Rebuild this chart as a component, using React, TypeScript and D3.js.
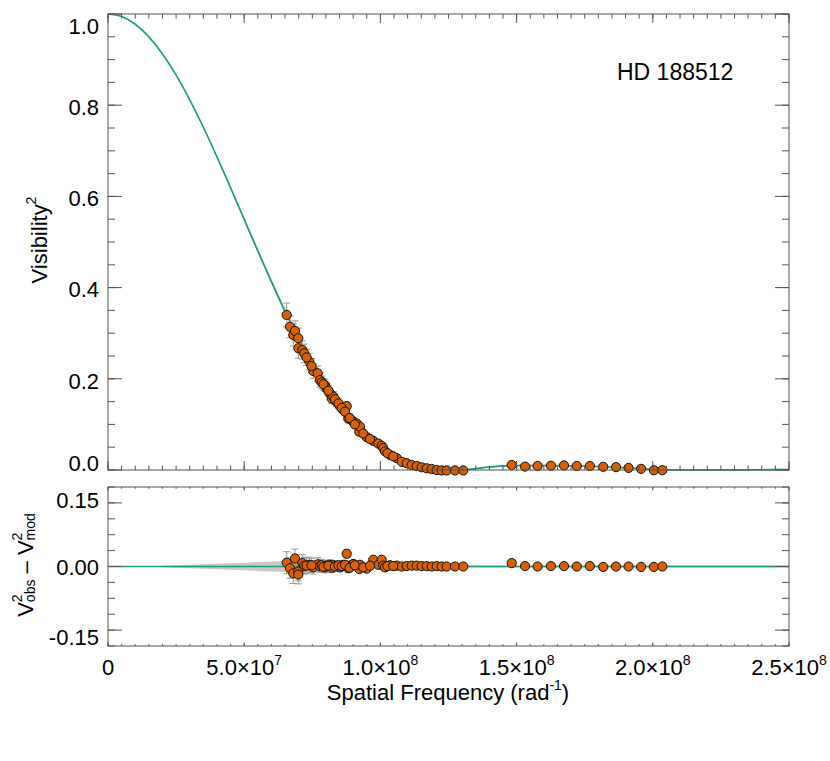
import React from "react";
import * as d3 from "d3";

// ---------- model curve (spatial frequency in units of 1e7 rad^-1) ----------
const modelFreq = [0, 0.5, 1, 1.5, 2, 2.5, 3, 3.5, 4, 4.5, 5, 5.5, 6, 6.5, 7, 7.5, 8, 8.5, 9, 9.5, 10, 10.5, 11, 11.5, 12, 12.5, 13, 13.5, 14, 14.5, 15, 16, 17, 18, 19, 20, 20.5, 21, 22, 23, 24, 25];
const modelV2 = [1, 0.9943, 0.9775, 0.9499, 0.9124, 0.8659, 0.8119, 0.7516, 0.6867, 0.6188, 0.5495, 0.4804, 0.413, 0.348, 0.2881, 0.2328, 0.1836, 0.1402, 0.1035, 0.0729, 0.0486, 0.0299, 0.0165, 0.0075, 0.0023, 0.0003, 0.0001, 0.003, 0.0065, 0.009, 0.0098, 0.0098, 0.0093, 0.0075, 0.005, 0.0015, 0.0005, 0.0001, 0, 0.0002, 0.0006, 0.001];
const modelBandTop = [0, 0, 0, 0, 0.0008, 0.0014, 0.002, 0.0026, 0.0032, 0.0038, 0.0044, 0.005, 0.0056, 0.006, 0.0055, 0.0048, 0.004, 0.0034, 0.0028, 0.0023, 0.002, 0.0018, 0.0016, 0.0015, 0.0015, 0.0015, 0.0015, 0.0015, 0.0015, 0.0015, 0.0015, 0.0015, 0.0015, 0.0015, 0.0015, 0.0015, 0.0015, 0.0015, 0.0015, 0.0015, 0.0015, 0.0015];
const modelBandResid = [0, 0, 0, 0, 0.0015, 0.0027, 0.004, 0.0053, 0.0066, 0.0078, 0.009, 0.0105, 0.012, 0.013, 0.012, 0.01, 0.008, 0.007, 0.006, 0.005, 0.004, 0.0035, 0.003, 0.003, 0.003, 0.0025, 0.0025, 0.0025, 0.0025, 0.0025, 0.0025, 0.0025, 0.0025, 0.0025, 0.0025, 0.0025, 0.0025, 0.0025, 0.0025, 0.0025, 0.0025, 0.0025];

// ---------- observations ----------
const obsFreq = [6.56, 6.681, 6.803, 6.865, 6.986, 6.986, 7.133, 7.206, 7.39, 7.537, 7.698, 7.783, 7.845, 7.966, 8.029, 8.15, 8.212, 8.271, 8.396, 8.517, 8.638, 8.763, 8.821, 8.921, 9.005, 9.13, 9.225, 9.251, 9.497, 9.739, 9.923, 10.047, 10.106, 10.169, 10.352, 10.598, 10.782, 10.965, 11.149, 11.332, 11.516, 11.7, 11.883, 12.067, 12.25, 12.434, 12.738, 13.043,
  14.82, 15.31, 15.77, 16.26, 16.74, 17.21, 17.69, 18.18, 18.65, 19.11, 19.57, 20.04, 20.35,
  7.29, 7.47, 7.91, 8.09, 8.33, 8.46, 8.58, 8.7, 8.87, 9.06, 9.37, 9.62, 10.26, 10.47];
const obsV2 = [0.34, 0.314, 0.296, 0.305, 0.289, 0.267, 0.263, 0.256, 0.238, 0.217, 0.212, 0.197, 0.192, 0.186, 0.178, 0.168, 0.157, 0.161, 0.149, 0.14, 0.132, 0.14, 0.113, 0.11, 0.106, 0.102, 0.084, 0.095, 0.072, 0.064, 0.058, 0.053, 0.048, 0.041, 0.033, 0.026, 0.018, 0.015, 0.011, 0.0088, 0.0059, 0.0037, 0.0022, 0, -0.001, -0.001, -0.001, -0.001,
  0.011, 0.0075, 0.0088, 0.0094, 0.01, 0.0088, 0.0088, 0.007, 0.0062, 0.0046, 0.0025, -0.0005, -0.0005,
  0.247, 0.228, 0.188, 0.174, 0.155, 0.146, 0.136, 0.128, 0.114, 0.1, 0.08, 0.068, 0.037, 0.03];
const obsErr = [0.026, 0.024, 0.024, 0.022, 0.022, 0.022, 0.02, 0.02, 0.018, 0.016, 0.016, 0.015, 0.014, 0.013, 0.012, 0.012, 0.011, 0.011, 0.01, 0.01, 0.009, 0.009, 0.009, 0.008, 0.008, 0.008, 0.007, 0.007, 0.006, 0.006, 0.006, 0.005, 0.005, 0.005, 0.004, 0.004, 0.004, 0.003, 0.003, 0.003, 0.003, 0.003, 0.003, 0.003, 0.003, 0.003, 0.003, 0.003,
  0.002, 0.002, 0.002, 0.002, 0.002, 0.002, 0.002, 0.002, 0.002, 0.002, 0.002, 0.002, 0.002,
  0.018, 0.016, 0.013, 0.012, 0.011, 0.01, 0.01, 0.009, 0.009, 0.008, 0.007, 0.006, 0.004, 0.004];
const obsResid = [0.009, -0.004, -0.016, 0.019, -0.012, -0.019, 0.008, 0.002, 0.004, -0.002, 0.005, 0.001, 0.003, -0.002, 0.002, 0.004, -0.003, 0.003, 0.001, -0.002, 0.004, 0.03, -0.004, 0.003, 0.006, 0.002, -0.006, 0.004, -0.005, 0.016, 0.004, 0.016, 0.002, -0.002, 0.003, 0.002, 0, 0.001, 0.002, 0.002, 0.001, 0.001, 0, 0.001, 0, 0, 0, 0,
  0.008, 0.001, 0, 0.001, 0.001, 0, 0.001, -0.001, 0, 0, -0.001, -0.001, 0,
  0.002, 0.003, -0.001, 0.002, 0, 0.003, 0.001, 0.004, -0.003, 0.003, -0.002, 0.002, 0.001, 0.001];

// ---------- ticks ----------
const xMajor = [0, 5, 10, 15, 20, 25];
const xTickMant = ["0", "5.0", "1.0", "1.5", "2.0", "2.5"];
const xTickExp = ["", "7", "8", "8", "8", "8"];
const yMajor = [0, 0.2, 0.4, 0.6, 0.8, 1.0];
const yTickLabels = ["0.0", "0.2", "0.4", "0.6", "0.8", "1.0"];
const rMajor = [-0.15, 0, 0.15];
const rTickLabels = ["-0.15", "0.00", "0.15"];

const FONT = "'Liberation Sans', Arial, Helvetica, sans-serif";
const TEAL = "#1b9e77";
const ORANGE = "#d95f02";
const AX = "#555";

export default function App() {
  const L = 108, R = 789, T1 = 14, B1 = 470, T2 = 487, B2 = 646;
  const x = d3.scaleLinear().domain([0, 25]).range([L, R]);
  const y1 = d3.scaleLinear().domain([0, 1]).range([B1, T1]);
  const y2 = d3.scaleLinear().domain([-0.1875, 0.1875]).range([B2, T2]);

  const model = modelFreq.map((f, i) => ({ f, v: modelV2[i], tb: modelBandTop[i], rb: modelBandResid[i] }));
  const obs = obsFreq.map((f, i) => ({ f, v: obsV2[i], e: obsErr[i], r: obsResid[i] }));

  const line1 = d3.line<any>().x(d => x(d.f)).y(d => y1(d.v)).curve(d3.curveMonotoneX);
  const band1 = d3.area<any>().x(d => x(d.f)).y0(d => y1(d.v - d.tb)).y1(d => y1(d.v + d.tb)).curve(d3.curveMonotoneX);
  const band2 = d3.area<any>().x(d => x(d.f)).y0(d => y2(-d.rb)).y1(d => y2(d.rb)).curve(d3.curveMonotoneX);

  const xMinor = d3.range(0, 25.001, 0.5);
  const yMinor = d3.range(0, 1.0001, 0.05);
  const rMinor = d3.range(-0.1875, 0.18751, 0.0375);

  const yTicks = (ys: number[], scale: any, len: number) =>
    ys.map((v, i) => (
      <g key={"yt" + len + i}>
        <line x1={L} x2={L + len} y1={scale(v)} y2={scale(v)} stroke={AX} />
        <line x1={R} x2={R - len} y1={scale(v)} y2={scale(v)} stroke={AX} />
      </g>
    ));
  const xTicks = (xs: number[], top: number, bot: number, len: number) =>
    xs.map((v, i) => (
      <g key={"xt" + top + len + i}>
        <line x1={x(v)} x2={x(v)} y1={bot} y2={bot - len} stroke={AX} />
        <line x1={x(v)} x2={x(v)} y1={top} y2={top + len} stroke={AX} />
      </g>
    ));

  const errBars = (ys: (d: any) => number, scale: any, key: string) =>
    obs.map((d, i) => {
      const cx = x(d.f);
      const yc = ys(d);
      const a = scale(yc - d.e), b = scale(yc + d.e);
      return (
        <g key={key + i} stroke="#999" strokeWidth={1}>
          <line x1={cx} x2={cx} y1={a} y2={b} />
          <line x1={cx - 3.5} x2={cx + 3.5} y1={a} y2={a} />
          <line x1={cx - 3.5} x2={cx + 3.5} y1={b} y2={b} />
        </g>
      );
    });

  return (
    <svg width={830} height={761} style={{ position: "absolute", left: 0, top: 0, background: "#fff" }} fontFamily={FONT}>
      <defs>
        <clipPath id="c1"><rect x={L} y={T1} width={R - L} height={B1 - T1 + 6} /></clipPath>
        <clipPath id="c2"><rect x={L} y={T2} width={R - L} height={B2 - T2} /></clipPath>
      </defs>
      <rect x={0} y={0} width={830} height={761} fill="#fff" />

      {/* top panel */}
      <g clipPath="url(#c1)">
        <path d={band1(model) || ""} fill="#c8c8c8" />
        <path d={line1(model) || ""} fill="none" stroke={TEAL} strokeWidth={1.6} />
      </g>
      {errBars(d => d.v, y1, "e1")}
      {obs.map((d, i) => (
        <circle key={"p1" + i} cx={x(d.f)} cy={y1(d.v)} r={4.6} fill={ORANGE} stroke="#111" strokeWidth={1} />
      ))}
      <rect x={L} y={T1} width={R - L} height={B1 - T1} fill="none" stroke={AX} />
      {yTicks(yMinor, y1, 7)}
      {yTicks(yMajor, y1, 14)}
      {xTicks(xMinor, T1, B1, 4.5)}
      {xTicks(xMajor, T1, B1, 9)}
      {yMajor.map((v, i) => {
        const yc = Math.min(Math.max(y1(v) + 2, T1 + 12), B1 - 7);
        return (
          <text key={"yl" + i} x={99} y={yc} dy="0.35em" textAnchor="end" fontSize={22} fill="#000">{yTickLabels[i]}</text>
        );
      })}
      <text x={617} y={80} fontSize={23} fill="#000">HD 188512</text>
      <text transform="translate(47,240) rotate(-90)" textAnchor="middle" fontSize={22} fill="#000">
        Visibility<tspan dy={-11} fontSize={14}>2</tspan>
      </text>

      {/* residual panel */}
      <g clipPath="url(#c2)">
        <path d={band2(model) || ""} fill="#c8c8c8" />
        <line x1={L} x2={R} y1={y2(0)} y2={y2(0)} stroke={TEAL} strokeWidth={1.6} />
      </g>
      {errBars(d => d.r, y2, "e2")}
      {obs.map((d, i) => (
        <circle key={"p2" + i} cx={x(d.f)} cy={y2(d.r)} r={4.6} fill={ORANGE} stroke="#111" strokeWidth={1} />
      ))}
      <rect x={L} y={T2} width={R - L} height={B2 - T2} fill="none" stroke={AX} />
      {yTicks(rMinor, y2, 7)}
      {yTicks(rMajor, y2, 14)}
      {xTicks(xMinor, T2, B2, 1.8)}
      {xTicks(xMajor, T2, B2, 3.5)}
      {rMajor.map((v, i) => {
        const yc = y2(v) + (v > 0 ? -3 : v < 0 ? 7 : 1);
        return (
          <text key={"rl" + i} x={99} y={yc} dy="0.35em" textAnchor="end" fontSize={22} fill="#000">{rTickLabels[i]}</text>
        );
      })}
      <text transform="translate(33,565) rotate(-90)" textAnchor="middle" fontSize={22} fill="#000">
        V<tspan fontSize={14} dy={-11}>2</tspan><tspan fontSize={14} dx={-7.8} dy={13}>obs</tspan><tspan dy={-2}> – V</tspan><tspan fontSize={14} dy={-11}>2</tspan><tspan fontSize={14} dx={-7.8} dy={13}>mod</tspan>
      </text>

      {/* x axis labels */}
      {xMajor.map((v, i) => (
        <text key={"xl" + i} x={x(v)} y={675} textAnchor="middle" fontSize={22} fill="#000">
          {xTickMant[i]}
          {xTickExp[i] ? (
            <>
              {"×10"}
              <tspan dy={-10} fontSize={14}>{xTickExp[i]}</tspan>
            </>
          ) : null}
        </text>
      ))}
      <text x={448} y={700} textAnchor="middle" fontSize={22} fill="#000">
        Spatial Frequency (rad<tspan dy={-10} fontSize={14}>-1</tspan><tspan dy={10}>)</tspan>
      </text>
    </svg>
  );
}
